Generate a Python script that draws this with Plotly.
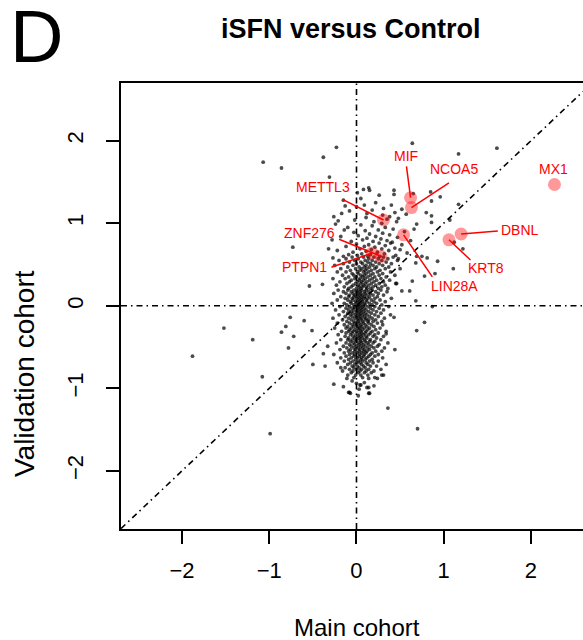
import plotly.graph_objects as go

# ---------------- data ----------------
# isolated points (x = main cohort, y = validation cohort)
outliers = [
    (-1.68, 2.85), (-0.23, 1.92), (-0.38, 1.80), (-1.07, 1.74), (-0.86, 1.67), (-0.31, 1.56),
    (0.64, 1.97), (1.17, 1.84), (1.61, 1.91), (0.85, 1.38), (0.96, 1.32), (0.86, 1.27), (1.17, 1.23),
    (0.86, 1.01), (1.12, 0.77), (1.22, 0.69), (0.75, 0.60), (0.81, 0.58), (0.93, 0.54), (1.11, 0.45),
    (0.78, 0.36), (0.87, -0.01), (0.78, -0.20), (-1.52, -0.27), (-1.19, -0.41), (-1.88, -0.61),
    (-0.99, -1.55), (0.36, -1.24), (0.70, -1.49), (-1.08, -0.86), (-0.76, -0.14), (-0.81, -0.25),
    (-0.86, -0.32), (-0.60, -0.18), (-0.72, -0.37), (-0.78, -0.51), (-0.51, -0.30), (-0.50, -0.71),
    (-0.36, -0.73), (-0.54, 0.24), (-0.39, 0.26), (-0.73, 0.71), (0.43, -0.14), (0.69, -0.30),
    (0.44, -0.53), (0.34, -0.34), (0.68, 0.06), (0.61, 0.18), (0.52, 0.18), (0.46, 0.27), (0.64, 0.30),
    (0.90, 0.39), (0.69, 0.60), (0.68, 0.52), (0.48, 0.57), (0.43, 1.40), (0.43, 1.35), (0.65, 1.36),
    (0.80, 1.13), (0.86, 1.09), (1.07, 1.04), (0.69, 0.99), (0.66, 0.93), (0.08, 1.41), (0.14, 1.43),
    (0.01, 1.37), (0.15, 1.40), (-0.13, 1.21), (-0.26, 1.08), (-0.17, 1.12), (0.00, 1.20), (0.30, 1.10),
    (0.57, 1.11), (0.44, 1.13), (0.38, 1.08), (0.46, 1.02), (0.52, 1.17), (0.11, 1.07), (-0.21, 1.03),
    (-0.24, 0.99), (-0.14, 0.92), (-0.27, 0.58),
    (-0.26, -0.95), (-0.09, -1.05), (-0.07, -1.06), (0.03, -1.01), (0.05, -0.96), (0.14, -0.99),
    (0.14, -1.06), (0.00, -0.94), (0.15, -1.06), (0.12, -0.99), (-0.08, -1.05),
    (0.04, -0.96), (0.14, -0.88), (0.29, -0.84), (0.24, -0.88), (-0.11, -0.88), (-0.18, -0.75),
    (-0.33, -0.49), (-0.38, -0.58), (-0.05, -0.91), (0.09, -0.93), (0.20, -0.97), (-0.15, -0.98),
    (0.02, -1.09),
]

# upper, sparser part of the cloud
cluster_upper = [
    (0.05, 1.30), (0.22, 1.25), (0.31, 1.18), (-0.08, 1.15), (0.18, 1.16), (0.40, 1.22), (0.26, 1.34),
    (0.09, 1.22), (-0.15, 1.28), (0.35, 1.05), (0.12, 1.12), (0.48, 1.06), (0.20, 1.02), (-0.02, 1.04),
    (0.29, 1.00),
    (0.05, 0.98), (0.18, 0.97), (0.33, 0.95), (-0.10, 0.95), (0.42, 0.93), (0.25, 0.92), (0.10, 0.91),
    (0.55, 0.90), (-0.03, 0.89), (0.30, 0.88), (0.15, 0.87), (0.38, 0.86), (0.02, 0.85), (0.22, 0.84),
    (-0.18, 0.84), (0.47, 0.83), (0.12, 0.82), (0.28, 0.81), (0.07, 0.80), (0.35, 0.79), (-0.06, 0.78),
    (0.19, 0.78), (0.41, 0.77), (0.26, 0.76), (0.00, 0.75), (0.14, 0.74), (0.52, 0.74), (0.33, 0.73),
    (-0.12, 0.72), (0.09, 0.72), (0.21, 0.71), (0.44, 0.70), (0.04, 0.69), (0.29, 0.69), (0.17, 0.68),
    (-0.22, 0.67), (0.37, 0.67), (0.11, 0.66), (-0.04, 0.65), (0.24, 0.65), (0.58, 0.64), (0.06, 0.63),
    (0.32, 0.63), (0.16, 0.62), (-0.09, 0.62), (0.45, 0.61), (0.01, 0.61), (0.27, 0.60), (0.13, 0.60),
    (-0.15, 0.60), (0.39, 0.76), (0.50, 0.68), (-0.28, 0.80), (0.62, 0.79), (-0.32, 0.69),
]

# dense part of the cloud: rows of (validation value, main-cohort values)
cluster_mid = [
    (0.59, [-0.05, 0.08, 0.20, 0.31, 0.42]),
    (0.57, [-0.12, 0.02, 0.14, 0.25, 0.36]),
    (0.55, [-0.20, -0.02, 0.10, 0.18, 0.29, 0.47]),
    (0.53, [-0.08, 0.05, 0.13, 0.22, 0.34]),
    (0.51, [-0.15, 0.00, 0.07, 0.16, 0.26, 0.40]),
    (0.49, [-0.25, -0.04, 0.11, 0.19, 0.30]),
    (0.47, [-0.10, 0.03, 0.09, 0.15, 0.23, 0.37]),
    (0.45, [-0.18, -0.01, 0.06, 0.12, 0.21, 0.33, 0.50]),
    (0.43, [-0.07, 0.04, 0.10, 0.17, 0.27]),
    (0.41, [-0.22, -0.12, 0.01, 0.08, 0.14, 0.24, 0.39]),
    (0.39, [-0.05, 0.02, 0.11, 0.19, 0.30]),
    (0.37, [-0.16, -0.03, 0.05, 0.09, 0.16, 0.26, 0.44]),
    (0.35, [-0.09, 0.00, 0.07, 0.13, 0.21, 0.34]),
    (0.33, [-0.27, -0.13, -0.02, 0.04, 0.10, 0.18, 0.28]),
    (0.31, [-0.06, 0.03, 0.08, 0.15, 0.23, 0.38]),
    (0.29, [-0.19, -0.08, 0.01, 0.06, 0.12, 0.20, 0.31]),
    (0.27, [-0.11, -0.01, 0.05, 0.10, 0.17, 0.26, 0.45]),
    (0.25, [-0.23, -0.04, 0.02, 0.08, 0.14, 0.22, 0.33]),
    (0.23, [-0.14, -0.06, 0.03, 0.07, 0.11, 0.19, 0.29]),
    (0.21, [-0.09, 0.00, 0.05, 0.12, 0.16, 0.25, 0.36]),
]

cluster_center = [
    (0.19, [-0.21, -0.10, -0.03, 0.02, 0.06, 0.11, 0.18, 0.28]),
    (0.17, [-0.15, -0.06, 0.00, 0.04, 0.09, 0.14, 0.22, 0.35]),
    (0.15, [-0.26, -0.12, -0.04, 0.01, 0.05, 0.10, 0.16, 0.25]),
    (0.13, [-0.08, -0.02, 0.03, 0.07, 0.12, 0.19, 0.31]),
    (0.11, [-0.18, -0.09, -0.03, 0.01, 0.05, 0.09, 0.15, 0.24]),
    (0.09, [-0.13, -0.05, 0.00, 0.04, 0.08, 0.13, 0.21, 0.40]),
    (0.07, [-0.22, -0.10, -0.04, 0.02, 0.06, 0.11, 0.17, 0.27]),
    (0.05, [-0.07, -0.01, 0.03, 0.07, 0.12, 0.20, 0.33]),
    (0.03, [-0.28, -0.14, -0.06, 0.00, 0.04, 0.09, 0.15, 0.23]),
    (0.01, [-0.11, -0.03, 0.02, 0.06, 0.10, 0.18, 0.29]),
    (-0.01, [-0.19, -0.08, -0.02, 0.03, 0.07, 0.13, 0.21, 0.37]),
    (-0.03, [-0.12, -0.05, 0.01, 0.05, 0.09, 0.16, 0.26]),
    (-0.05, [-0.24, -0.09, -0.03, 0.02, 0.06, 0.11, 0.19, 0.31]),
    (-0.07, [-0.15, -0.06, 0.00, 0.04, 0.08, 0.14, 0.23]),
    (-0.09, [-0.10, -0.04, 0.01, 0.05, 0.10, 0.17, 0.28]),
    (-0.11, [-0.20, -0.07, -0.01, 0.03, 0.07, 0.12, 0.21, 0.39]),
    (-0.13, [-0.13, -0.05, 0.00, 0.04, 0.09, 0.15, 0.25]),
    (-0.15, [-0.27, -0.09, -0.02, 0.02, 0.06, 0.11, 0.18, 0.32]),
    (-0.17, [-0.16, -0.06, 0.01, 0.05, 0.10, 0.14, 0.22]),
    (-0.19, [-0.11, -0.03, 0.02, 0.07, 0.13, 0.19, 0.29]),
]

cluster_low = [
    (-0.21, [-0.22, -0.08, -0.02, 0.03, 0.08, 0.14, 0.24]),
    (-0.23, [-0.14, -0.05, 0.00, 0.05, 0.10, 0.17, 0.30]),
    (-0.25, [-0.10, -0.03, 0.02, 0.06, 0.12, 0.20]),
    (-0.27, [-0.25, -0.12, -0.06, 0.01, 0.04, 0.09, 0.15, 0.27]),
    (-0.29, [-0.08, -0.02, 0.03, 0.07, 0.13, 0.22]),
    (-0.31, [-0.17, -0.09, -0.04, 0.00, 0.05, 0.11, 0.18, 0.34]),
    (-0.33, [-0.12, -0.05, 0.02, 0.06, 0.10, 0.16, 0.25]),
    (-0.35, [-0.21, -0.07, -0.01, 0.04, 0.08, 0.14, 0.21]),
    (-0.37, [-0.13, -0.04, 0.01, 0.05, 0.11, 0.19, 0.31]),
    (-0.39, [-0.09, -0.02, 0.03, 0.07, 0.12, 0.23]),
    (-0.41, [-0.18, -0.10, -0.05, 0.00, 0.04, 0.09, 0.16, 0.28]),
    (-0.43, [-0.07, -0.01, 0.05, 0.10, 0.15, 0.21]),
    (-0.45, [-0.23, -0.12, -0.04, 0.02, 0.06, 0.12, 0.19, 0.36]),
    (-0.47, [-0.08, -0.02, 0.03, 0.08, 0.14, 0.26]),
    (-0.49, [-0.15, -0.06, 0.00, 0.05, 0.10, 0.17, 0.24]),
    (-0.51, [-0.11, -0.03, 0.02, 0.07, 0.13, 0.20, 0.32]),
    (-0.53, [-0.19, -0.07, -0.01, 0.04, 0.09, 0.15]),
    (-0.55, [-0.09, -0.02, 0.03, 0.08, 0.12, 0.22, 0.29]),
    (-0.57, [-0.14, -0.05, 0.01, 0.06, 0.11, 0.18]),
    (-0.59, [-0.26, -0.08, -0.02, 0.04, 0.09, 0.16, 0.25]),
]

cluster_bottom = [
    (-0.61, [-0.12, -0.03, 0.03, 0.08, 0.14, 0.21]),
    (-0.63, [-0.18, -0.06, 0.01, 0.06, 0.12, 0.30]),
    (-0.65, [-0.09, -0.01, 0.05, 0.10, 0.18]),
    (-0.67, [-0.14, -0.04, 0.02, 0.07, 0.15, 0.25]),
    (-0.69, [-0.22, -0.07, 0.00, 0.04, 0.11, 0.19]),
    (-0.71, [-0.10, -0.02, 0.06, 0.13, 0.34]),
    (-0.73, [-0.05, 0.01, 0.08, 0.16, 0.23]),
    (-0.75, [-0.13, -0.03, 0.03, 0.10]),
    (-0.77, [-0.08, 0.00, 0.06, 0.14, 0.28]),
    (-0.79, [-0.16, -0.04, 0.04, 0.11, 0.20]),
    (-0.81, [-0.06, 0.02, 0.09, 0.17]),
    (-0.84, [-0.10, -0.01, 0.05, 0.13, 0.31]),
    (-0.87, [-0.03, 0.07, 0.21]),
]

# highlighted genes
genes = ["MX1", "MIF", "NCOA5", "METTL3", "LIN28A", "DBNL", "KRT8", "ZNF276", "PTPN1"]
gene_x = [2.27, 0.62, 0.63, 0.31, 0.54, 1.20, 1.06, 0.28, 0.18]
gene_y = [1.47, 1.31, 1.19, 1.04, 0.86, 0.87, 0.80, 0.60, 0.64]

# label placement (layout, in axis units) and leader-line start
label_pos = [(2.26, 1.66), (0.57, 1.81), (1.12, 1.66), (-0.38, 1.44), (1.12, 0.24),
             (1.88, 0.92), (1.49, 0.455), (-0.54, 0.88), (-0.60, 0.47)]
leader_start = [None, (0.573, 1.69), (1.06, 1.49), (-0.16, 1.29), (0.87, 0.35),
                (1.62, 0.907), (1.307, 0.555), (-0.20, 0.806), (-0.287, 0.467)]

x_ticks = [-2, -1, 0, 1, 2]
y_ticks = [-2, -1, 0, 1, 2]

# ---------------- build ----------------
bg_x, bg_y = [], []
for x, y in outliers + cluster_upper:
    bg_x.append(x)
    bg_y.append(y)
for rows in (cluster_mid, cluster_center, cluster_low, cluster_bottom):
    for y, xs in rows:
        for x in xs:
            bg_x.append(x)
            bg_y.append(y)

W, H = 583, 640
L, R, T, B = 121, 0, 83, 111
XR = [-2.70, 2.597]
YR = [-2.705, 2.70]

def px(xp):
    return (xp - L) / (W - L - R)

def py(yp):
    return (H - B - yp) / (H - T - B)

FONT = "Liberation Sans, Arial, Helvetica, sans-serif"

fig = go.Figure()
fig.add_trace(go.Scatter(
    x=bg_x, y=bg_y, mode="markers",
    marker=dict(size=3.8, color="rgba(0,0,0,0.70)", line=dict(width=0)),
    cliponaxis=False, hoverinfo="skip", showlegend=False))
fig.add_trace(go.Scatter(
    x=gene_x, y=gene_y, mode="markers",
    marker=dict(size=13, color="rgba(255,0,0,0.40)", line=dict(width=0)),
    hoverinfo="skip", showlegend=False))

dash = "6px,4px,1.5px,4px"
shapes = [
    dict(type="line", xref="x", yref="y", x0=XR[0], x1=XR[1], y0=0, y1=0,
         line=dict(color="black", width=1.6, dash=dash)),
    dict(type="line", xref="x", yref="y", x0=0, x1=0, y0=YR[0], y1=YR[1],
         line=dict(color="black", width=1.6, dash=dash)),
    dict(type="line", xref="x", yref="y", x0=XR[0], y0=XR[0], x1=XR[1], y1=XR[1],
         line=dict(color="black", width=1.6, dash=dash)),
]
annotations = []
for g, gx, gy, lp, ls in zip(genes, gene_x, gene_y, label_pos, leader_start):
    if ls is not None:
        shapes.append(dict(type="line", xref="x", yref="y", x0=ls[0], y0=ls[1], x1=gx, y1=gy,
                           line=dict(color="#ff0000", width=1.5)))
    annotations.append(dict(x=lp[0], y=lp[1], xref="x", yref="y", text=g, showarrow=False,
                            font=dict(family=FONT, size=14, color="#ff0000"),
                            xanchor="center", yanchor="middle"))

annotations += [
    dict(x=px(36), y=py(36), xref="paper", yref="paper", text="D", showarrow=False,
         font=dict(family=FONT, size=74, color="black"), xanchor="center", yanchor="middle"),
    dict(x=px(351), y=py(29), xref="paper", yref="paper", text="<b>iSFN versus Control</b>",
         showarrow=False, font=dict(family=FONT, size=27, color="black"),
         xanchor="center", yanchor="middle"),
    dict(x=px(357), y=py(627), xref="paper", yref="paper", text="Main cohort", showarrow=False,
         font=dict(family=FONT, size=24, color="black"), xanchor="center", yanchor="middle"),
    dict(x=px(24), y=py(374), xref="paper", yref="paper", text="Validation cohort",
         showarrow=False, textangle=-90,
         font=dict(family=FONT, size=28, color="black"), xanchor="center", yanchor="middle"),
]

fig.update_layout(
    width=W, height=H, margin=dict(l=L, r=R, t=T, b=B, pad=0),
    paper_bgcolor="white", plot_bgcolor="white",
    shapes=shapes, annotations=annotations, showlegend=False,
    xaxis=dict(range=XR, tickvals=x_ticks, ticktext=[("−" if v < 0 else "") + str(abs(v)) for v in x_ticks],
               ticks="outside", ticklen=13, tickwidth=2, tickcolor="black",
               showline=True, linewidth=2, linecolor="black", mirror=True,
               showgrid=False, zeroline=False, ticklabelstandoff=8,
               tickfont=dict(family=FONT, size=22, color="black")),
    yaxis=dict(range=YR, tickvals=y_ticks, ticktext=[("−" if v < 0 else "") + str(abs(v)) for v in y_ticks],
               ticks="outside", ticklen=13, tickwidth=2, tickcolor="black", tickangle=-90,
               showline=True, linewidth=2, linecolor="black", mirror=False,
               showgrid=False, zeroline=False, ticklabelstandoff=14,
               tickfont=dict(family=FONT, size=22, color="black")),
)

fig.write_html("out.html", config={"displayModeBar": False},
               post_script="document.body.style.margin='0';document.body.style.padding='0';")
